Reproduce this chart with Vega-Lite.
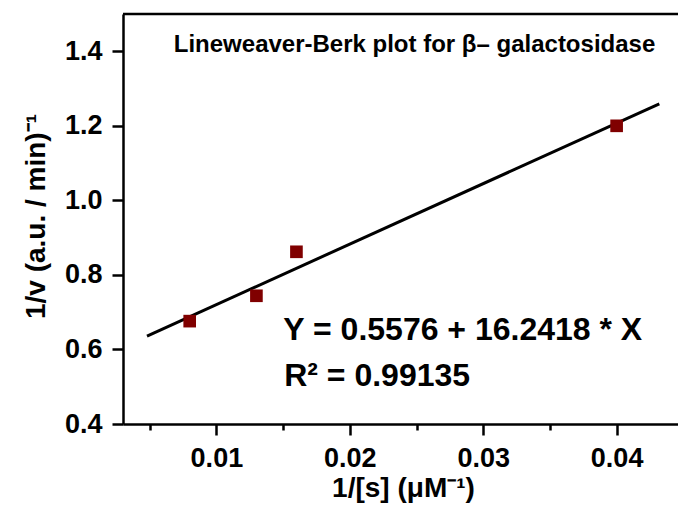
{
  "$schema": "https://vega.github.io/schema/vega-lite/v6.json",
  "width": 555,
  "height": 410,
  "autosize": {"type": "none"},
  "padding": {"left": 123, "top": 14, "right": 0, "bottom": 84},
  "background": "white",
  "config": {
    "view": {"stroke": null},
    "font": "Liberation Sans",
    "axis": {
      "grid": false,
      "domainColor": "black",
      "domainWidth": 2.5,
      "tickColor": "black",
      "tickWidth": 2.5,
      "labelFont": "Liberation Sans",
      "labelFontWeight": "bold",
      "labelFontSize": 27,
      "labelColor": "black",
      "titleFont": "Liberation Sans",
      "titleFontWeight": "bold",
      "titleFontSize": 28,
      "titleColor": "black",
      "labelOverlap": false,
      "labelFlush": false
    }
  },
  "datasets": {
    "points": [
      {"s": 0.008, "v": 0.676},
      {"s": 0.013, "v": 0.744},
      {"s": 0.016, "v": 0.862},
      {"s": 0.04, "v": 1.2}
    ],
    "fit": [
      {"s": 0.0048, "v": 0.636},
      {"s": 0.0432, "v": 1.259}
    ],
    "notes": [{}]
  },
  "layer": [
    {
      "data": {"name": "notes"},
      "mark": {"type": "rule", "color": "black", "strokeWidth": 2.5},
      "encoding": {"y": {"datum": 1.5, "type": "quantitative"}}
    },
    {
      "data": {"name": "fit"},
      "mark": {"type": "line", "color": "black", "strokeWidth": 3},
      "encoding": {
        "x": {"field": "s", "type": "quantitative"},
        "y": {"field": "v", "type": "quantitative"}
      }
    },
    {
      "data": {"name": "points"},
      "mark": {"type": "point", "shape": "square", "filled": true, "color": "#800000", "opacity": 1, "size": 160},
      "encoding": {
        "x": {
          "field": "s", "type": "quantitative",
          "scale": {"domain": [0.003, 0.0446], "nice": false, "zero": false},
          "axis": {
            "orient": "bottom",
            "values": [0.005, 0.01, 0.015, 0.02, 0.025, 0.03, 0.035, 0.04],
            "labelExpr": "round(datum.value*200) % 2 == 1 ? '' : format(datum.value, '.2f')",
            "tickSize": {"condition": {"test": "round(datum.value*200) % 2 == 1", "value": 6}, "value": 11},
            "labelPadding": 10,
            "title": "1/[s] (μM⁻¹)",
            "titleX": 280,
            "titleY": 72,
            "titleBaseline": "alphabetic",
            "titleAnchor": "middle",
            "titleAlign": "center"
          }
        },
        "y": {
          "field": "v", "type": "quantitative",
          "scale": {"domain": [0.4, 1.5], "nice": false, "zero": false},
          "axis": {
            "orient": "left",
            "values": [0.4, 0.5, 0.6, 0.7, 0.8, 0.9, 1.0, 1.1, 1.2, 1.3, 1.4, 1.5],
            "labelExpr": "round(datum.value*10) % 2 == 1 ? '' : format(datum.value, '.1f')",
            "tickSize": {"condition": {"test": "round(datum.value*10) % 2 == 1", "value": 6}, "value": 11},
            "labelPadding": 10,
            "title": "1/v (a.u. / min)⁻¹",
            "titleX": -79,
            "titleY": 202,
            "titleAngle": -90,
            "titleBaseline": "alphabetic",
            "titleAlign": "center"
          }
        }
      }
    },
    {
      "data": {"name": "notes"},
      "mark": {"type": "text", "align": "center", "baseline": "alphabetic", "fontSize": 24, "fontWeight": "bold", "font": "Liberation Sans", "color": "black"},
      "encoding": {
        "x": {"datum": 0.02485, "type": "quantitative"},
        "y": {"datum": 1.397, "type": "quantitative"},
        "text": {"value": "Lineweaver-Berk plot for β– galactosidase"}
      }
    },
    {
      "data": {"name": "notes"},
      "mark": {"type": "text", "align": "left", "baseline": "alphabetic", "fontSize": 32, "fontWeight": "bold", "font": "Liberation Sans", "color": "black"},
      "encoding": {
        "x": {"datum": 0.01502, "type": "quantitative"},
        "y": {"datum": 0.6254, "type": "quantitative"},
        "text": {"value": "Y = 0.5576 + 16.2418 * X"}
      }
    },
    {
      "data": {"name": "notes"},
      "mark": {"type": "text", "align": "left", "baseline": "alphabetic", "fontSize": 32, "fontWeight": "bold", "font": "Liberation Sans", "color": "black"},
      "encoding": {
        "x": {"datum": 0.01508, "type": "quantitative"},
        "y": {"datum": 0.502, "type": "quantitative"},
        "text": {"value": "R² = 0.99135"}
      }
    }
  ]
}
